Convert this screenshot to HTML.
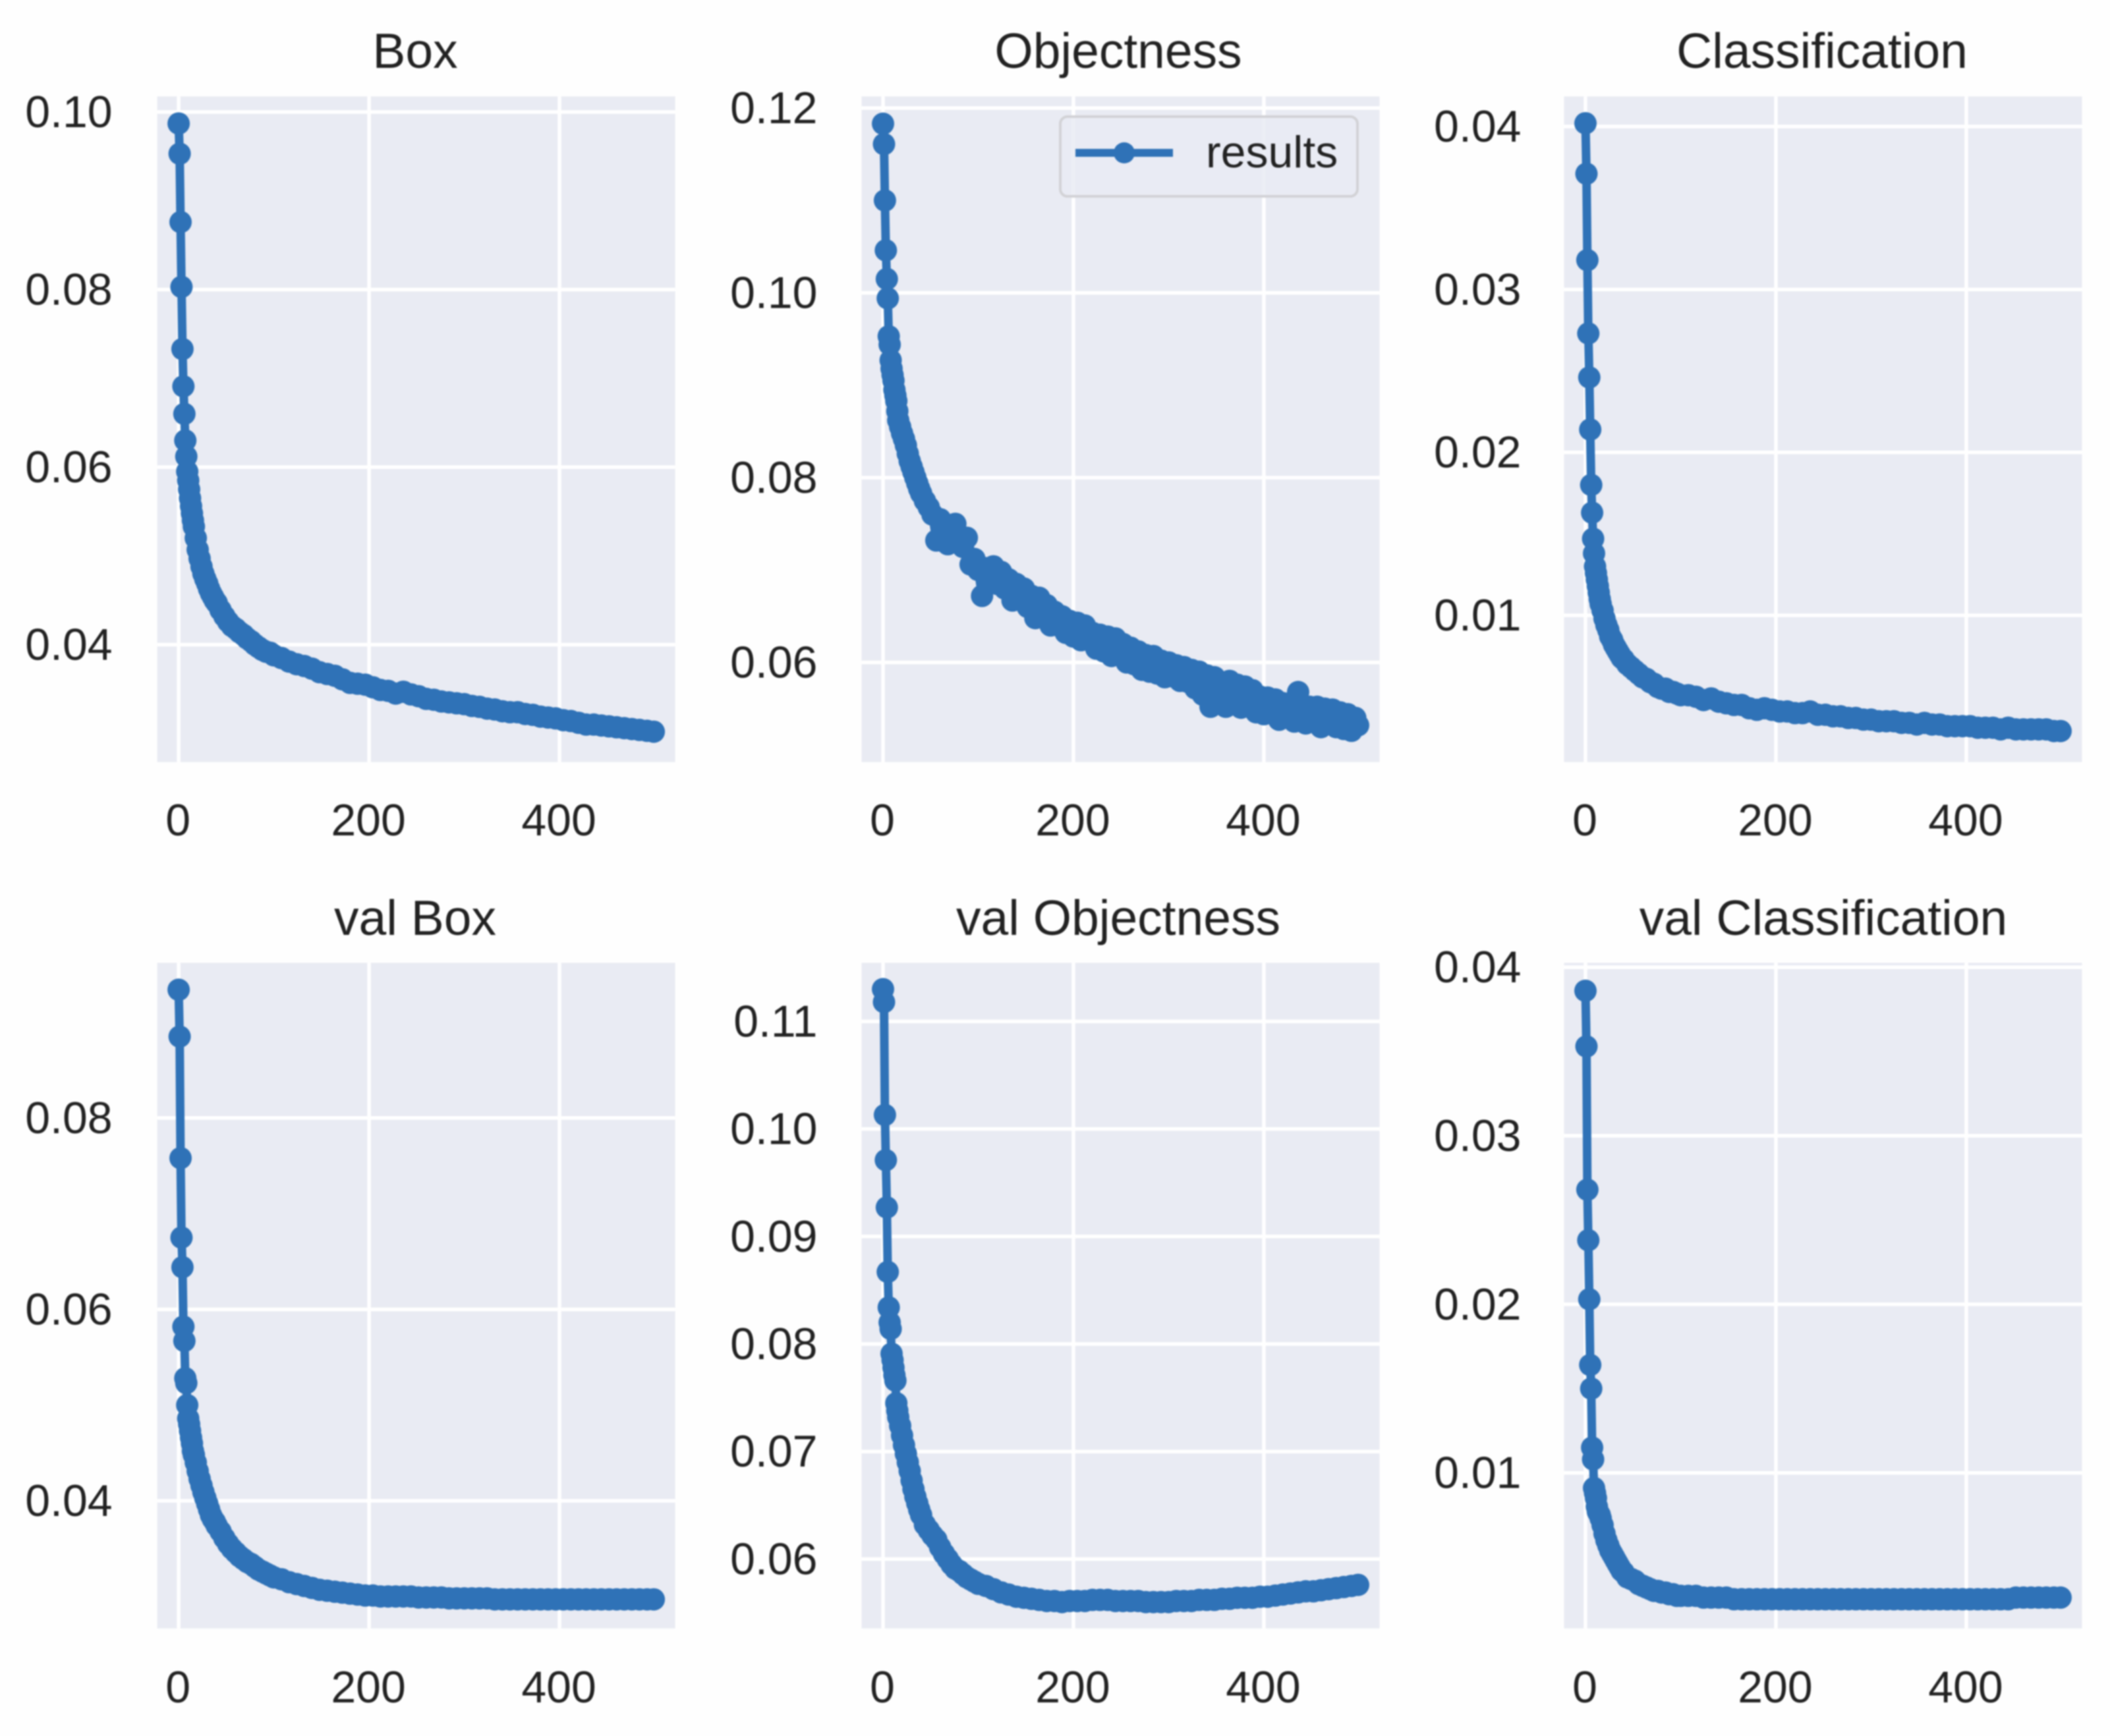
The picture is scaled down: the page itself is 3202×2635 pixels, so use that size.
<!DOCTYPE html>
<html lang="en">
<head>
<meta charset="utf-8">
<title>Training results</title>
<style>
html,body{margin:0;padding:0;background:#fefefe;}
svg{display:block;font-family:"Liberation Sans",Arial,sans-serif;filter:blur(1px);}
text{fill:#222222;}
</style>
</head>
<body>
<svg id="chart" xmlns="http://www.w3.org/2000/svg" width="3202" height="2635" viewBox="0 0 3202 2635">
  <rect x="0" y="0" width="3202" height="2635" fill="#fefefe"/>
  <g id="panels"></g>
  <text x="630" y="103" font-size="75" text-anchor="middle">Box</text>
  <text x="1697" y="103" font-size="75" text-anchor="middle">Objectness</text>
  <text x="2765" y="103" font-size="75" text-anchor="middle">Classification</text>
  <text x="630" y="1419" font-size="75" text-anchor="middle">val Box</text>
  <text x="1697" y="1419" font-size="75" text-anchor="middle">val Objectness</text>
  <text x="2767" y="1419" font-size="75" text-anchor="middle">val Classification</text>
  <g>
    <rect x="1609" y="177" width="451" height="121" rx="11" ry="11" fill="#e9ebf3" fill-opacity="0.85" stroke="#d2d2d6" stroke-width="4"/>
    <line x1="1632" y1="232" x2="1780" y2="232" stroke="#2f72b7" stroke-width="12"/>
    <circle cx="1706" cy="232" r="16" fill="#2f72b7"/>
    <text x="1830" y="254" font-size="68">results</text>
  </g>
</svg>
<script>
const epochs = [
  0,1,2,3,4,5,6,7,8,9,10,11,12,13,14,15,
  16,18,20,22,24,26,28,30,32,34,36,38,40,
  44,48,52,56,60,64,68,72,76,80,84,88,92,96,100,
  108,116,124,132,140,148,156,164,172,180,
  188,196,204,212,220,228,236,244,252,260,
  268,276,284,292,300,308,316,324,332,340,
  348,356,364,372,380,388,396,404,412,420,
  428,436,444,452,460,468,476,484,492,
  499
];
const objectnessEpochs = [
  0,1,2,3,4,5,6,7,8,9,10,11,12,13,14,15,
  16,18,20,22,24,26,28,30,32,34,36,38,40,
  44,48,52,56,60,64,68,72,76,80,
  84,88,92,96,100,104,108,112,116,120,
  124,128,132,136,140,144,148,152,156,160,
  164,168,172,176,180,184,188,192,196,200,
  204,208,212,216,220,224,228,232,236,240,
  244,248,252,256,260,264,268,272,276,280,
  284,288,292,296,300,304,308,312,316,320,
  324,328,332,336,340,344,348,352,356,360,
  364,368,372,376,380,384,388,392,396,400,
  404,408,412,416,420,424,428,432,436,440,
  444,448,452,456,460,464,468,472,476,480,
  484,488,492,496,
  499
];
const boxValues = [
  .0987,.0953,.0876,.0803,.0733,.0691,.0660,.0630,.0612,.0595,.0585,.0575,.0565,.0556,.0548,.0540,
  .0533,.0520,.0507,.0497,.0488,.0480,.0474,.0469,.0463,.0458,.0454,.0450,.0447,
  .0439,.0432,.0426,.0421,.0418,.0414,.0411,.0407,.0404,.0400,.0397,.0394,.0392,.0391,.0388,
  .0385,.0381,.0378,.0376,.0373,.0369,.0367,.0365,.0361,.0357,
  .0356,.0355,.0352,.0349,.0348,.0345,.0347,.0344,.0342,.0339,
  .0338,.0336,.0335,.0334,.0333,.0331,.0330,.0328,.0327,.0325,
  .0324,.0324,.0322,.0321,.0319,.0318,.0317,.0315,.0314,.0312,
  .0310,.0310,.0309,.0308,.0307,.0306,.0305,.0304,.0303,
  .0302
];
const objectnessValues = [
  .1183,.1161,.1100,.1046,.1015,.0994,.0953,.0944,.0927,.0918,.0911,.0905,.0895,.0889,.0883,.0872,
  .0862,.0855,.0848,.0842,.0835,.0826,.0818,.0812,.0806,.0800,.0794,.0788,.0783,
  .0775,.0768,.0760,.0732,.0755,.0748,.0728,.0745,.0750,.0730,
  .0725,.0735,.0706,.0712,.0700,.0672,.0702,.0698,.0704,.0685,
  .0698,.0680,.0690,.0667,.0685,.0672,.0680,.0660,.0672,.0648,
  .0670,.0655,.0662,.0640,.0655,.0640,.0650,.0632,.0645,.0628,
  .0643,.0624,.0640,.0625,.0632,.0615,.0630,.0612,.0628,.0607,
  .0626,.0610,.0620,.0600,.0616,.0598,.0612,.0592,.0608,.0590,
  .0607,.0588,.0602,.0584,.0600,.0585,.0597,.0580,.0595,.0579,
  .0592,.0572,.0590,.0565,.0586,.0552,.0584,.0556,.0578,.0552,
  .0580,.0560,.0576,.0551,.0574,.0555,.0570,.0546,.0563,.0544,
  .0562,.0548,.0560,.0538,.0556,.0542,.0556,.0536,.0568,.0550,
  .0534,.0552,.0540,.0552,.0530,.0550,.0536,.0549,.0530,.0546,
  .0528,.0544,.0526,.0540,
  .0532
];
const classificationValues = [
  .0402,.0371,.0318,.0273,.0246,.0214,.0180,.0163,.0147,.0138,.0130,.0126,.0122,.0118,.0114,.0110,
  .0107,.0103,.0098,.0094,.0091,.0087,.0085,.0082,.0080,.0078,.0076,.0074,.0073,
  .0070,.0068,.0066,.0064,.0062,.0061,.0059,.0058,.0056,.0055,.0055,.0053,.0053,.0052,.0051,
  .0051,.0050,.0048,.0049,.0047,.0046,.0045,.0045,.0043,.0042,
  .0043,.0042,.0041,.0041,.0040,.0040,.0041,.0039,.0039,.0038,
  .0038,.0037,.0037,.0036,.0036,.0035,.0035,.0035,.0034,.0034,
  .0033,.0034,.0033,.0033,.0032,.0032,.0032,.0032,.0031,.0031,
  .0031,.0030,.0031,.0030,.0030,.0030,.0030,.0030,.0029,
  .0029
];
const valBoxValues = [
  .0934,.0885,.0758,.0675,.0644,.0582,.0567,.0528,.0523,.0500,.0486,.0480,.0473,.0466,.0460,.0452,
  .0448,.0440,.0431,.0423,.0416,.0409,.0403,.0397,.0391,.0385,.0381,.0378,.0374,
  .0368,.0361,.0355,.0350,.0346,.0342,.0339,.0336,.0334,.0331,.0328,.0326,.0324,.0322,.0320,
  .0318,.0315,.0313,.0311,.0309,.0307,.0306,.0305,.0304,.0303,
  .0302,.0301,.0301,.0300,.0300,.0300,.0300,.0300,.0299,.0299,
  .0299,.0299,.0298,.0298,.0298,.0298,.0298,.0298,.0297,.0297,
  .0297,.0297,.0297,.0297,.0297,.0297,.0297,.0297,.0297,.0297,
  .0297,.0297,.0297,.0297,.0297,.0297,.0297,.0297,.0297,
  .0297
];
const valObjectnessValues = [
  .1130,.1118,.1013,.0971,.0927,.0867,.0834,.0820,.0814,.0791,.0785,.0778,.0771,.0766,.0745,.0738,
  .0732,.0724,.0715,.0706,.0698,.0690,.0682,.0673,.0665,.0658,.0652,.0646,.0641,
  .0632,.0627,.0622,.0618,.0611,.0605,.0600,.0595,.0591,.0589,.0586,.0583,.0581,.0579,.0577,
  .0575,.0572,.0569,.0567,.0565,.0564,.0563,.0562,.0561,.0561,
  .0560,.0561,.0561,.0561,.0562,.0562,.0562,.0561,.0561,.0561,
  .0561,.0560,.0560,.0560,.0560,.0561,.0561,.0561,.0562,.0562,
  .0562,.0563,.0563,.0564,.0564,.0564,.0565,.0565,.0566,.0567,
  .0568,.0569,.0570,.0570,.0571,.0572,.0573,.0574,.0575,
  .0576
];
const valClassificationValues = [
  .0386,.0353,.0268,.0238,.0203,.0164,.0150,.0115,.0108,.0091,.0088,.0085,.0080,.0077,.0076,.0075,
  .0073,.0069,.0064,.0060,.0057,.0054,.0052,.0050,.0048,.0046,.0044,.0042,.0041,
  .0038,.0037,.0036,.0034,.0033,.0032,.0031,.0030,.0030,.0029,.0029,.0028,.0028,.0027,.0027,
  .0027,.0027,.0026,.0026,.0026,.0026,.0025,.0025,.0025,.0025,
  .0025,.0025,.0025,.0025,.0025,.0025,.0025,.0025,.0025,.0025,
  .0025,.0025,.0025,.0025,.0025,.0025,.0025,.0025,.0025,.0025,
  .0025,.0025,.0025,.0025,.0025,.0025,.0025,.0025,.0025,.0025,
  .0025,.0025,.0025,.0026,.0026,.0026,.0026,.0026,.0026,
  .0026
];

const xTicks = [0, 200, 400];
const boxTicks = [0.04, 0.06, 0.08, 0.10];
const objectnessTicks = [0.06, 0.08, 0.10, 0.12];
const classificationTicks = [0.01, 0.02, 0.03, 0.04];
const valBoxTicks = [0.04, 0.06, 0.08];
const valObjectnessTicks = [0.06, 0.07, 0.08, 0.09, 0.10, 0.11];
const valClassificationTicks = [0.01, 0.02, 0.03, 0.04];

const xDomain = [-22.5, 521.5];
const boxDomain = [0.02678, 0.10175];
const objectnessDomain = [0.049219, 0.121255];
const classificationDomain = [0.000995, 0.041844];
const valBoxDomain = [0.026664, 0.096213];
const valObjectnessDomain = [0.05355, 0.11545];
const valClassificationDomain = [0.00077, 0.040262];

const SVGNS = 'http://www.w3.org/2000/svg';
const BLUE = '#2f72b7';
const PANEL_W = 786;
const PANEL_H = 1010.3;
const columnLeft = [238.6, 1307.5, 2373.5];
const rowTop = [146.4, 1461.4];
const xLabelBaseline = [1269, 2585];
const yLabelGap = [68, 67, 65];

function svgEl(tag, attrs) {
  const el = document.createElementNS(SVGNS, tag);
  for (const k in attrs) el.setAttribute(k, attrs[k]);
  return el;
}

function drawPanel(parent, slug, col, row, xs, values, ticks, domain) {
  const left = columnLeft[col];
  const top = rowTop[row];
  const xAxis = t => left + (t - xDomain[0]) / (xDomain[1] - xDomain[0]) * PANEL_W;
  const yAxis = v => top + (domain[1] - v) / (domain[1] - domain[0]) * PANEL_H;

  const g = svgEl('g', {});
  
  
  parent.appendChild(g);

  const bg = svgEl('rect', {x: left, y: top, width: PANEL_W, height: PANEL_H, fill: '#e9ebf3'});
  
  
  g.appendChild(bg);

  ticks.forEach(function (v) {
    const y = yAxis(v);
    const line = svgEl('line', {x1: left, x2: left + PANEL_W, y1: y, y2: y, stroke: '#ffffff', 'stroke-width': 5.5});
    
    
    g.appendChild(line);
    const label = svgEl('text', {x: left - yLabelGap[col], y: y + 23, 'font-size': 68, 'text-anchor': 'end'});
    label.textContent = v.toFixed(2);
    
    
    g.appendChild(label);
  });

  xTicks.forEach(function (t) {
    const x = xAxis(t);
    const line = svgEl('line', {x1: x, x2: x, y1: top, y2: top + PANEL_H, stroke: '#ffffff', 'stroke-width': 5.5});
    
    
    g.appendChild(line);
    const label = svgEl('text', {x: x - 1, y: xLabelBaseline[row] - 1, 'font-size': 68, 'text-anchor': 'middle'});
    label.textContent = String(t);
    
    
    g.appendChild(label);
  });

  const pts = xs.map(function (t, i) {
    return xAxis(t).toFixed(1) + ',' + yAxis(values[i]).toFixed(1);
  }).join(' ');
  const series = svgEl('polyline', {points: pts, fill: 'none', stroke: BLUE, 'stroke-width': 13, 'stroke-linejoin': 'round', 'stroke-linecap': 'round'});
  
  
  g.appendChild(series);

  xs.forEach(function (t, i) {
    const c = svgEl('circle', {cx: xAxis(t).toFixed(1), cy: yAxis(values[i]).toFixed(1), r: 17, fill: BLUE});
    
    
    g.appendChild(c);
  });
}

const host = document.getElementById('panels');
drawPanel(host, 'box', 0, 0, epochs, boxValues, boxTicks, boxDomain);
drawPanel(host, 'objectness', 1, 0, objectnessEpochs, objectnessValues, objectnessTicks, objectnessDomain);
drawPanel(host, 'classification', 2, 0, epochs, classificationValues, classificationTicks, classificationDomain);
drawPanel(host, 'val-box', 0, 1, epochs, valBoxValues, valBoxTicks, valBoxDomain);
drawPanel(host, 'val-objectness', 1, 1, epochs, valObjectnessValues, valObjectnessTicks, valObjectnessDomain);
drawPanel(host, 'val-classification', 2, 1, epochs, valClassificationValues, valClassificationTicks, valClassificationDomain);
</script>
</body>
</html>
